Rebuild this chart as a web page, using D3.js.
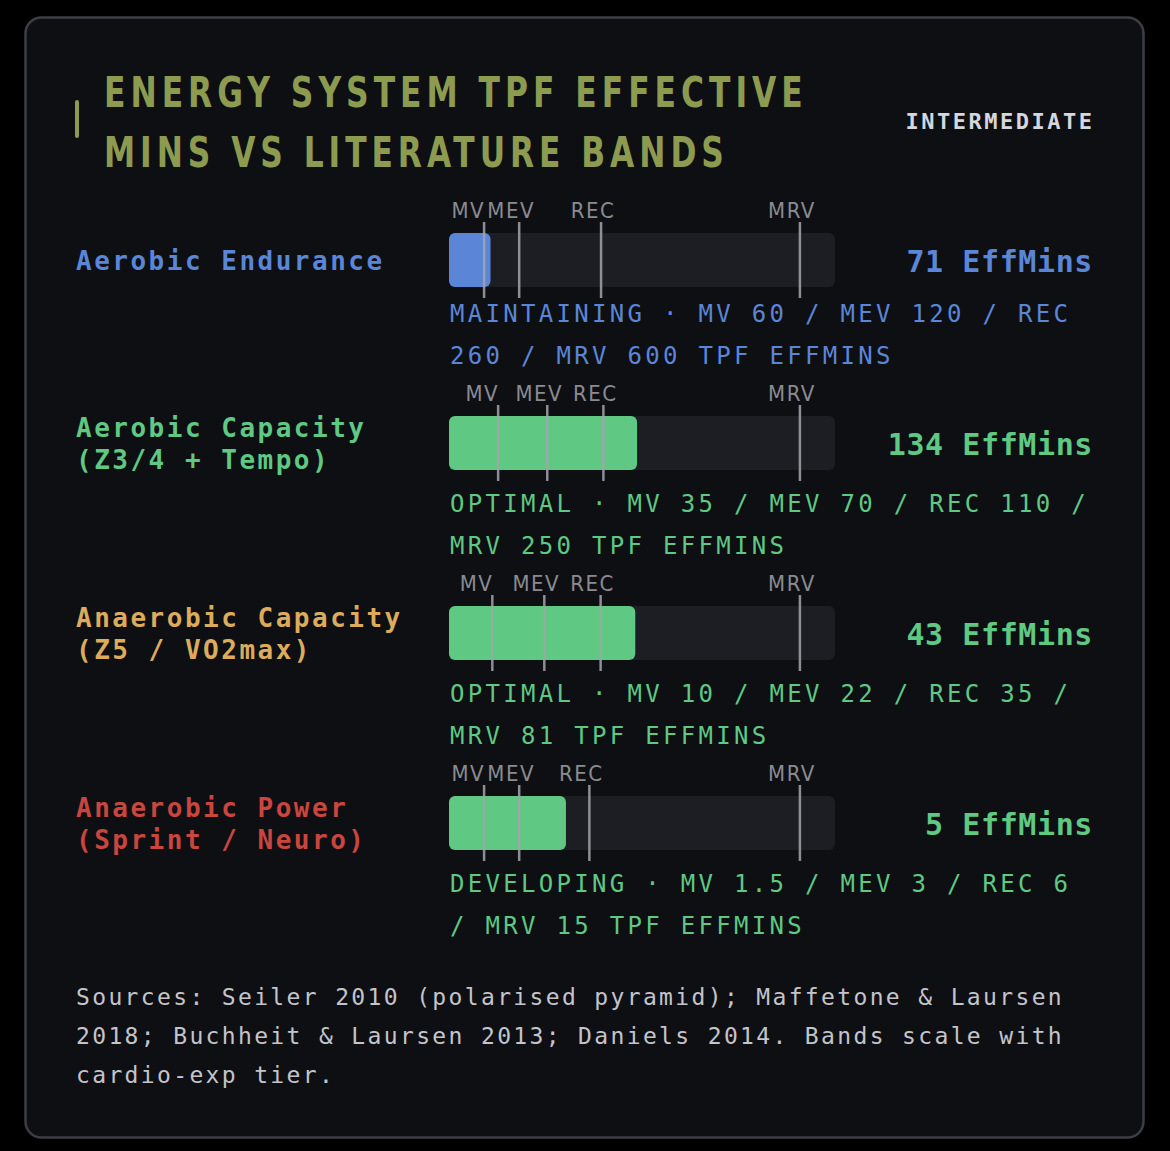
<!DOCTYPE html>
<html>
<head>
<meta charset="utf-8">
<script src="https://cdn.jsdelivr.net/npm/d3@7"></script>
<style>
  body { margin: 0; background: #000; }
  svg { display: block; }
</style>
</head>
<body>
<div id="chart"></div>
<script>
// Energy systems, their effective minutes and the literature bands (TPF EffMins).
const systemLabels = [
    ["Aerobic Endurance"],
    ["Aerobic Capacity", "(Z3/4 + Tempo)"],
    ["Anaerobic Capacity", "(Z5 / VO2max)"],
    ["Anaerobic Power", "(Sprint / Neuro)"]
];
const effMins = [71, 134, 43, 5];
const mvBand = [60, 35, 10, 1.5];
const mevBand = [120, 70, 22, 3];
const recBand = [260, 110, 35, 6];
const mrvBand = [600, 250, 81, 15];
const statuses = ["MAINTAINING", "OPTIMAL", "OPTIMAL", "DEVELOPING"];
const bandNames = ["MV", "MEV", "REC", "MRV"];
const titleLines = ["ENERGY SYSTEM TPF EFFECTIVE", "MINS VS LITERATURE BANDS"];
const tierLabel = "INTERMEDIATE";
const sourcesText = "Sources: Seiler 2010 (polarised pyramid); Maffetone & Laursen 2018; Buchheit & Laursen 2013; Daniels 2014. Bands scale with cardio-exp tier.";

const WIDTH = 1170, HEIGHT = 1151;
const BAR_LEFT = 449, BAR_RIGHT = 835, BAR_H = 54;
const MONO = "'DejaVu Sans Mono', monospace";
const COND = "'DejaVu Sans Condensed', 'DejaVu Sans', sans-serif";

const systemColors = ["#5b86d8", "#5fc882", "#dcab5c", "#c9453e"];
const statusColors = { MAINTAINING: "#5b86d8", OPTIMAL: "#5fc882", DEVELOPING: "#5fc882" };

// Greedy word wrap by character count (mono font).
const wrap = (text, maxChars) => {
    const lines = [];
    let line = "";
    text.split(" ").forEach(w => {
        const next = line ? line + " " + w : w;
        if (next.length > maxChars && line) {
            lines.push(line);
            line = w;
        } else {
            line = next;
        }
    });
    if (line) lines.push(line);
    return lines;
};

const svg = d3.select("#chart")
    .append("svg")
    .attr("width", WIDTH)
    .attr("height", HEIGHT);

svg.append("rect")
    .attr("x", 25.5).attr("y", 17.5)
    .attr("width", 1118).attr("height", 1120)
    .attr("rx", 16)
    .attr("fill", "#0e0f13")
    .attr("stroke", "#3d3e45")
    .attr("stroke-width", 2.5);

// Header
svg.append("rect")
    .attr("x", 75).attr("y", 100)
    .attr("width", 4).attr("height", 38)
    .attr("rx", 2)
    .attr("fill", "#8c9b50");

const titleWidths = [699, 620];
titleLines.forEach((t, i) => {
    const txt = svg.append("text")
        .attr("y", 107 + i * 60)
        .attr("fill", "#8c9b50")
        .style("font-family", COND)
        .style("font-weight", "700")
        .style("font-size", "42px")
        .style("letter-spacing", "6px")
        .text(t);
    const w = txt.node().getComputedTextLength() - 6;
    const k = titleWidths[i] / w;
    txt.attr("transform", `translate(104,0) scale(${k},1)`);
});

svg.append("text")
    .attr("x", 1094.5).attr("y", 129)
    .attr("text-anchor", "end")
    .attr("fill", "#d6d6de")
    .style("font-family", MONO)
    .style("font-weight", "700")
    .style("font-size", "22px")
    .style("letter-spacing", "2.5px")
    .text(tierLabel);

// Rows: each bar block stacks tick labels, the bar and the wrapped status text.
let barTop = 233;
effMins.forEach((v, i) => {
    const bands = [mvBand[i], mevBand[i], recBand[i], mrvBand[i]];
    const x = d3.scaleLinear()
        .domain([0, mrvBand[i] * 1.1])
        .range([BAR_LEFT, BAR_RIGHT])
        .clamp(true);
    const color = statusColors[statuses[i]];
    const row = svg.append("g");

    // Label, vertically centred on the bar
    const lines = systemLabels[i];
    const firstBase = barTop + BAR_H / 2 - (lines.length - 1) * 16 + 10;
    row.selectAll("text.label")
        .data(lines)
        .join("text")
        .attr("class", "label")
        .attr("x", 76)
        .attr("y", (d, j) => firstBase + j * 32)
        .attr("fill", systemColors[i])
        .style("font-family", MONO)
        .style("font-weight", "700")
        .style("font-size", "26px")
        .style("letter-spacing", "2.5px")
        .text(d => d);

    // Track and value bar
    row.append("rect")
        .attr("x", BAR_LEFT).attr("y", barTop)
        .attr("width", BAR_RIGHT - BAR_LEFT).attr("height", BAR_H)
        .attr("rx", 6)
        .attr("fill", "#1c1e23");
    row.append("rect")
        .attr("x", BAR_LEFT).attr("y", barTop)
        .attr("width", x(v) - BAR_LEFT).attr("height", BAR_H)
        .attr("rx", 6)
        .attr("fill", color);

    // Band markers
    row.selectAll("line.band")
        .data(bands)
        .join("line")
        .attr("class", "band")
        .attr("x1", d => x(d)).attr("x2", d => x(d))
        .attr("y1", barTop - 11).attr("y2", barTop + BAR_H + 11)
        .attr("stroke", "#a3a4aa")
        .attr("stroke-opacity", 0.85)
        .attr("stroke-width", 2.5);
    row.selectAll("text.band")
        .data(bands)
        .join("text")
        .attr("class", "band")
        .attr("x", (d, j) => j === 0 ? x(d) + 1 : x(d) - 8)
        .attr("y", barTop - 15)
        .attr("text-anchor", (d, j) => j === 0 ? "end" : "middle")
        .attr("fill", "#8a8b91")
        .style("font-family", COND)
        .style("font-size", "22px")
        .style("letter-spacing", "1.5px")
        .text((d, j) => bandNames[j]);

    // Value
    row.append("text")
        .attr("x", 1093).attr("y", barTop + 39)
        .attr("text-anchor", "end")
        .attr("fill", color)
        .style("font-family", MONO)
        .style("font-weight", "700")
        .style("font-size", "30px")
        .style("letter-spacing", "0.6px")
        .text(`${v} EffMins`);

    // Status and band summary
    const status = `${statuses[i]} · MV ${mvBand[i]} / MEV ${mevBand[i]} / REC ${recBand[i]} / MRV ${mrvBand[i]} TPF EFFMINS`;
    const statusLines = wrap(status, 36);
    const statusBase = barTop + 89 + (lines.length > 1 ? 7 : 0);
    row.selectAll("text.status")
        .data(statusLines)
        .join("text")
        .attr("class", "status")
        .attr("x", 450)
        .attr("y", (d, j) => statusBase + j * 42)
        .attr("fill", color)
        .style("font-family", MONO)
        .style("font-size", "24px")
        .style("letter-spacing", "3.3px")
        .text(d => d);

    barTop = statusBase + (statusLines.length - 1) * 42 + 52;
});

// Footer
svg.selectAll("text.source")
    .data(wrap(sourcesText, 64))
    .join("text")
    .attr("class", "source")
    .attr("x", 76)
    .attr("y", (d, j) => 1005 + j * 39)
    .attr("fill", "#c4c4ca")
    .style("font-family", MONO)
    .style("font-size", "23px")
    .style("letter-spacing", "2.35px")
    .text(d => d);
</script>
</body>
</html>
